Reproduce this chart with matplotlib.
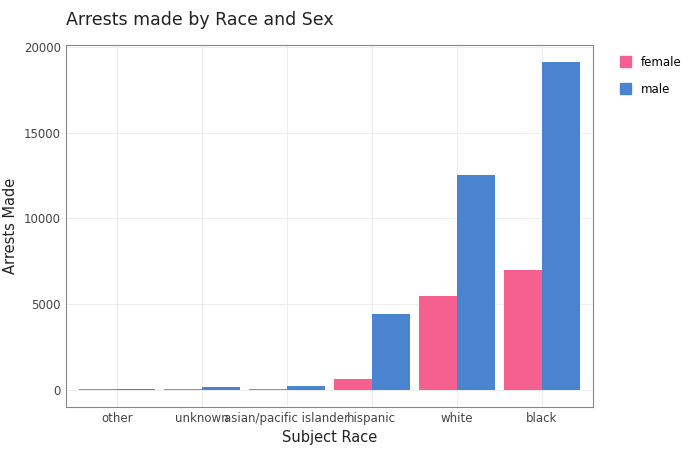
import numpy as np
import matplotlib.pyplot as plt
from matplotlib.patches import Patch

races = ['other', 'unknown', 'asian/pacific islander', 'hispanic', 'white', 'black']
female = [20, 30, 50, 640, 5480, 7000]
male = [60, 170, 230, 4430, 12540, 19130]

fig = plt.figure(figsize=(7, 4.5), dpi=100)
ax = fig.add_axes([0.094, 0.096, 0.753, 0.804])
x = np.arange(len(races))
w = 0.45
ax.bar(x - w / 2, female, w, color='#f5608f', zorder=2)
ax.bar(x + w / 2, male, w, color='#4a83d0', zorder=2)

ax.set_xlim(-0.6, 5.6)
ax.set_ylim(-990, 20120)
ax.set_xticks(x)
ax.set_xticklabels(races, fontsize=8.5, color='#444444')
ax.set_yticks([0, 5000, 10000, 15000, 20000])
ax.tick_params(axis='y', labelsize=8.5, labelcolor='#444444', length=0)
ax.tick_params(axis='x', length=0)
ax.grid(True, color='#eeeeee', linewidth=0.8, zorder=0)
for s in ax.spines.values():
    s.set_color('#888888')
ax.set_xlabel('Subject Race', fontsize=10.5, color='#222222')
ax.set_ylabel('Arrests Made', fontsize=10.5, color='#222222')
fig.text(0.094, 0.955, 'Arrests made by Race and Sex', fontsize=12.5, color='#222222', va='center')

handles = [Patch(color='#f5608f', label='female'), Patch(color='#4a83d0', label='male')]
fig.legend(handles=handles, loc='upper left', bbox_to_anchor=(0.87, 0.9), frameon=False,
           fontsize=8.5, handlelength=1, handleheight=1, labelspacing=1.2)
fig.savefig('out.png')
